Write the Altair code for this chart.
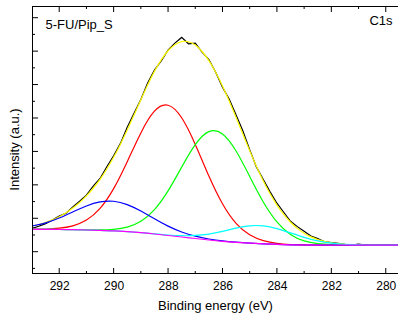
import altair as alt
import pandas as pd

# ---- data (binding energy in eV, intensity in a.u.) ----
E_coarse = [293.0, 292.5, 292.0, 291.5, 291.0, 290.5, 290.0, 289.5, 289.0, 288.5,
            288.0, 287.5, 287.0, 286.5, 286.0, 285.5, 285.0, 284.5, 284.0, 283.5,
            283.0, 282.5, 282.0, 281.5, 281.0, 280.5, 280.0, 279.5]

background = [0.670, 0.667, 0.664, 0.658, 0.649, 0.637, 0.622, 0.598, 0.568, 0.529,
              0.485, 0.440, 0.395, 0.350, 0.311, 0.281, 0.257, 0.236, 0.218, 0.206,
              0.200, 0.198, 0.197, 0.197, 0.197, 0.197, 0.197, 0.197]

peak_red = [0.673, 0.678, 0.703, 0.774, 0.946, 1.296, 1.888, 2.692, 3.554, 4.203,
            4.382, 4.006, 3.210, 2.265, 1.436, 0.850, 0.506, 0.330, 0.248, 0.215,
            0.202, 0.198, 0.197, 0.197, 0.197, 0.197, 0.197, 0.197]

peak_green = [0.670, 0.667, 0.664, 0.659, 0.653, 0.651, 0.670, 0.737, 0.912, 1.260,
              1.819, 2.530, 3.204, 3.592, 3.523, 3.013, 2.252, 1.487, 0.891, 0.517,
              0.323, 0.240, 0.209, 0.200, 0.198, 0.197, 0.197, 0.197]

peak_blue = [0.768, 0.863, 1.009, 1.190, 1.369, 1.490, 1.509, 1.408, 1.216, 0.984,
             0.765, 0.591, 0.466, 0.380, 0.322, 0.285, 0.258, 0.236, 0.218, 0.206,
             0.200, 0.198, 0.197, 0.197, 0.197, 0.197, 0.197, 0.197]

peak_cyan = [0.670, 0.667, 0.664, 0.658, 0.649, 0.637, 0.622, 0.598, 0.569, 0.534,
             0.500, 0.479, 0.486, 0.528, 0.610, 0.707, 0.775, 0.773, 0.692, 0.562,
             0.428, 0.323, 0.255, 0.220, 0.205, 0.199, 0.198, 0.197]

E_fine = [293.0, 292.75, 292.5, 292.25, 292.0, 291.75, 291.5, 291.25, 291.0, 290.75,
          290.5, 290.25, 290.0, 289.75, 289.5, 289.25, 289.0, 288.75, 288.5, 288.25,
          288.0, 287.75, 287.5, 287.25, 287.0, 286.75, 286.5, 286.25, 286.0, 285.75,
          285.5, 285.25, 285.0, 284.75, 284.5, 284.25, 284.0, 283.75, 283.5, 283.25,
          283.0, 282.75, 282.5, 282.25, 282.0, 281.75, 281.5, 281.25, 281.0, 280.75,
          280.5, 280.25, 280.0, 279.75, 279.5]

envelope = [0.771, 0.814, 0.874, 0.951, 1.048, 1.166, 1.307, 1.474, 1.670, 1.898,
            2.163, 2.473, 2.823, 3.217, 3.641, 4.092, 4.547, 4.989, 5.394, 5.738,
            6.011, 6.194, 6.286, 6.280, 6.181, 5.989, 5.715, 5.367, 4.958, 4.500,
            4.012, 3.513, 3.020, 2.552, 2.118, 1.732, 1.395, 1.114, 0.882, 0.697,
            0.553, 0.444, 0.365, 0.307, 0.267, 0.240, 0.223, 0.212, 0.206, 0.202,
            0.199, 0.198, 0.198, 0.197, 0.197]

measured = [0.70, 0.76, 0.84, 0.95, 1.07, 1.15, 1.34, 1.51, 1.69, 1.96,
            2.19, 2.54, 2.87, 3.24, 3.72, 4.14, 4.55, 5.05, 5.43, 5.71,
            6.03, 6.24, 6.41, 6.22, 6.24, 5.97, 5.75, 5.37, 4.92, 4.56,
            4.09, 3.61, 3.05, 2.53, 2.16, 1.79, 1.45, 1.18, 0.91, 0.75,
            0.61, 0.47, 0.39, 0.30, 0.27, 0.25, 0.22, 0.20, 0.23, 0.20,
            0.19, 0.20, 0.20, 0.20, 0.20]

x_major = [292, 290, 288, 286, 284, 282, 280]
x_minor = [291, 289, 287, 285, 283, 281]
y_major = [0, 1, 2, 3, 4, 5, 6, 7]
y_minor = [-0.5, 0.5, 1.5, 2.5, 3.5, 4.5, 5.5, 6.5]

sample_label = "5-FU/Pip_S"
region_label = "C1s"
x_title = "Binding energy (eV)"
y_title = "Intensity (a.u.)"

# ---- chart ----
FONT = "Liberation Sans"
W, H = 366, 268
xs = alt.Scale(domain=[279.55, 293.0], reverse=True, nice=False, zero=False)
ys = alt.Scale(domain=[-0.667, 7.35], nice=False, zero=False)

x_axis = alt.Axis(values=x_major, format="d", domain=False, ticks=False, tickSize=0,
                  grid=False, labelFont=FONT, labelFontSize=12, labelColor="black",
                  labelPadding=6, title=x_title, titleFont=FONT, titleFontSize=13,
                  titleFontWeight="normal", titleColor="black",
                  titleBaseline="alphabetic", titleY=35.5)
y_axis = alt.Axis(domain=False, ticks=False, labels=False, grid=False,
                  title=y_title, titleFont=FONT, titleFontSize=13,
                  titleFontWeight="normal", titleColor="black",
                  titleBaseline="alphabetic", titleX=-13.5, titleY=143)


def X(field):
    return alt.X(field, type="quantitative", scale=xs, axis=x_axis)


def Y(field):
    return alt.Y(field, type="quantitative", scale=ys, axis=y_axis)


def line(xv, yv, color, interp):
    df = pd.DataFrame({"E": xv, "I": yv})
    return alt.Chart(df).mark_line(color=color, strokeWidth=1.2, clip=True,
                                   interpolate=interp).encode(x=X("E"), y=Y("I"))


layers = [
    line(E_fine, measured, "black", "linear"),
    line(E_fine, envelope, "#ffff00", "natural"),
    line(E_coarse, peak_red, "#ff0000", "natural"),
    line(E_coarse, peak_green, "#00ff00", "natural"),
    line(E_coarse, peak_blue, "#0000ff", "natural"),
    line(E_coarse, peak_cyan, "#00ffff", "natural"),
    line(E_coarse, background, "#ff00ff", "natural"),
]

# ticks (inward)
ytk = alt.Chart(pd.DataFrame({"I": y_major})).mark_rule(color="black", strokeWidth=1).encode(
    y=Y("I"), x=alt.value(0), x2=alt.value(6))
ytm = alt.Chart(pd.DataFrame({"I": y_minor})).mark_rule(color="black", strokeWidth=1).encode(
    y=Y("I"), x=alt.value(0), x2=alt.value(3))
xtk_b = alt.Chart(pd.DataFrame({"E": x_major})).mark_rule(color="black", strokeWidth=1).encode(
    x=X("E"), y=alt.value(H), y2=alt.value(H - 6))
xtm_b = alt.Chart(pd.DataFrame({"E": x_minor})).mark_rule(color="black", strokeWidth=1).encode(
    x=X("E"), y=alt.value(H), y2=alt.value(H - 3))
xtk_t = alt.Chart(pd.DataFrame({"E": x_major})).mark_rule(color="black", strokeWidth=1).encode(
    x=X("E"), y=alt.value(0), y2=alt.value(6))
xtm_t = alt.Chart(pd.DataFrame({"E": x_minor})).mark_rule(color="black", strokeWidth=1).encode(
    x=X("E"), y=alt.value(0), y2=alt.value(3))

frame_df = pd.DataFrame({"k": [0]})
left_line = alt.Chart(frame_df).mark_rule(color="black", strokeWidth=1).encode(
    x=alt.value(0.5), y=alt.value(0), y2=alt.value(H))
bottom_line = alt.Chart(frame_df).mark_rule(color="black", strokeWidth=1).encode(
    y=alt.value(H - 0.5), x=alt.value(0), x2=alt.value(W))
top_line = alt.Chart(frame_df).mark_rule(color="black", strokeWidth=1).encode(
    y=alt.value(0.5), x=alt.value(0), x2=alt.value(W))

txt1 = alt.Chart(pd.DataFrame({"t": [sample_label]})).mark_text(
    align="left", baseline="alphabetic", font=FONT, fontSize=13, color="black").encode(
    x=alt.value(13.5), y=alt.value(22.5), text="t:N")
txt2 = alt.Chart(pd.DataFrame({"t": [region_label]})).mark_text(
    align="right", baseline="alphabetic", font=FONT, fontSize=13, color="black").encode(
    x=alt.value(360.5), y=alt.value(19), text="t:N")

chart = alt.layer(
    *layers, ytk, ytm, xtk_b, xtm_b, xtk_t, xtm_t,
    left_line, bottom_line, top_line, txt1, txt2
).properties(
    width=W, height=H,
    autosize=alt.AutoSizeParams(type="none"),
    padding={"left": 32, "top": 6, "right": 0, "bottom": 42},
).configure_view(stroke=None)

chart.save("out.html", embed_options={"renderer": "svg", "actions": False})
